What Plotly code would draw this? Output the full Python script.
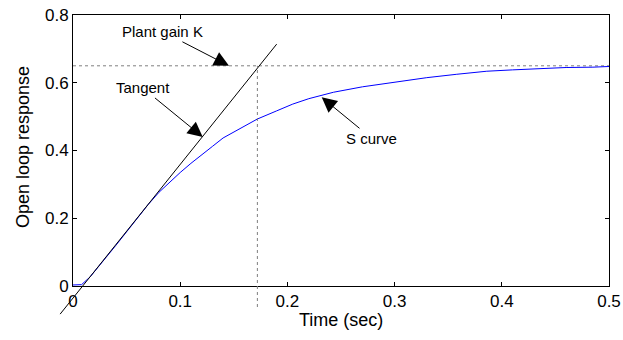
import plotly.graph_objects as go

# S-curve (open loop step response)
t_curve = [0, 0.008, 0.016, 0.03, 0.04, 0.05, 0.06, 0.07, 0.08, 0.09, 0.1, 0.11, 0.12,
           0.13, 0.14, 0.15, 0.16, 0.172, 0.19, 0.205, 0.22, 0.243, 0.27, 0.302, 0.33,
           0.358, 0.386, 0.41, 0.438, 0.46, 0.485, 0.5]
y_curve = [0.003, 0.004, 0.027, 0.08, 0.12, 0.16, 0.2, 0.24, 0.276, 0.306, 0.335, 0.362,
           0.388, 0.412, 0.437, 0.455, 0.472, 0.493, 0.517, 0.537, 0.553, 0.572, 0.588,
           0.602, 0.615, 0.625, 0.634, 0.638, 0.643, 0.645, 0.646, 0.648]

# Tangent line end points
tangent_t = [-0.012, 0.19]
tangent_y = [-0.083, 0.714]

# Plant gain K and time at intersection
K = 0.65
t_cross = 0.172
vline_y = [-0.062, K]
hline_t = [0, 0.5]

x_ticks = [0, 0.1, 0.2, 0.3, 0.4, 0.5]
y_ticks = [0, 0.2, 0.4, 0.6, 0.8]
x_range = [0, 0.5]
y_range = [0, 0.8]

W, H = 623, 340
px_l, px_r, px_t, px_b = 73, 609, 15, 286
xd = [px_l / W, px_r / W]
yd = [(H - px_b) / H, (H - px_t) / H]

# overlay full-figure axes with matching scale
sx = (px_r - px_l) / (x_range[1] - x_range[0])
sy = (px_b - px_t) / (y_range[1] - y_range[0])
x2_range = [x_range[0] - px_l / sx, x_range[1] + (W - px_r) / sx]
y2_range = [y_range[0] - (H - px_b) / sy, y_range[1] + px_t / sy]

FONT = "Liberation Sans, Arial, sans-serif"

fig = go.Figure()
fig.add_trace(go.Scatter(x=hline_t, y=[K, K], mode="lines",
                         line=dict(color="#7f7f7f", width=1, dash="dot"),
                         xaxis="x", yaxis="y", showlegend=False))
fig.add_trace(go.Scatter(x=t_curve, y=y_curve, mode="lines",
                         line=dict(color="#0000ff", width=1),
                         xaxis="x", yaxis="y", showlegend=False))
fig.add_trace(go.Scatter(x=[t_cross, t_cross], y=vline_y, mode="lines",
                         line=dict(color="#7f7f7f", width=1, dash="dot"),
                         xaxis="x2", yaxis="y2", showlegend=False))
fig.add_trace(go.Scatter(x=tangent_t, y=tangent_y, mode="lines",
                         line=dict(color="black", width=1),
                         xaxis="x2", yaxis="y2", showlegend=False))

axis_common = dict(showline=True, linecolor="black", linewidth=1, mirror="ticks",
                   ticks="inside", ticklen=4, tickcolor="black", showgrid=False,
                   zeroline=False, automargin=False,
                   tickfont=dict(family=FONT, size=17, color="black"))

fig.update_layout(
    template="none",
    width=W, height=H,
    margin=dict(l=0, r=0, t=0, b=0, pad=0, autoexpand=False),
    paper_bgcolor="white", plot_bgcolor="rgba(0,0,0,0)",
    font=dict(family=FONT, color="black"),
    xaxis=dict(domain=xd, range=x_range, tickvals=x_ticks,
               ticktext=[str(v) for v in x_ticks], anchor="y", **axis_common),
    yaxis=dict(domain=yd, range=y_range, tickvals=y_ticks,
               ticktext=[str(v) for v in y_ticks], anchor="x", **axis_common),
    xaxis2=dict(domain=[0, 1], range=x2_range, visible=False, anchor="y2",
                automargin=False),
    yaxis2=dict(domain=[0, 1], range=y2_range, visible=False, anchor="x2",
                automargin=False),
    showlegend=False,
)

ann_font = dict(family=FONT, size=15, color="black")
annots = [
    dict(x=0.1455, y=K, text="Plant gain K", ax=-66, ay=-34),
    dict(x=0.121, y=0.44, text="Tangent", ax=-60, ay=-49),
    dict(x=0.232, y=0.557, text="S curve", ax=50, ay=41),
]
for a in annots:
    fig.add_annotation(x=a["x"], y=a["y"], xref="x", yref="y", text=a["text"],
                       ax=a["ax"], ay=a["ay"], showarrow=True, arrowhead=2,
                       arrowsize=3, arrowwidth=1, arrowcolor="black", font=ann_font)

fig.add_annotation(text="Time (sec)", x=(px_l + px_r) / 2 / W, y=(H - 320) / H,
                   xref="paper", yref="paper", showarrow=False,
                   xanchor="center", yanchor="middle",
                   font=dict(family=FONT, size=18, color="black"))
fig.add_annotation(text="Open loop response", x=23 / W, y=(H - 147) / H,
                   xref="paper", yref="paper", showarrow=False, textangle=-90,
                   xanchor="center", yanchor="middle",
                   font=dict(family=FONT, size=18, color="black"))

fig.write_html("out.html")
